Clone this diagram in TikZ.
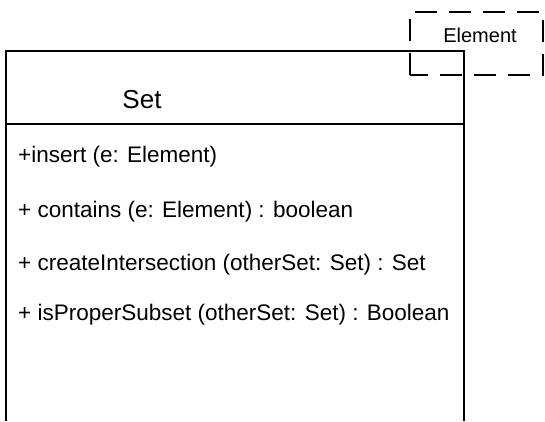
\documentclass[tikz,border=0pt]{standalone}
\usepackage{fontspec}
\setmainfont{Liberation Sans}
\begin{document}
\begin{tikzpicture}[x=1pt,y=1pt,
  classline/.style={draw=black,line width=1.3pt},
  titletext/.style={font=\fontsize{26}{30}\selectfont,inner sep=0pt},
  methodtext/.style={font=\fontsize{22.5}{27}\selectfont,inner sep=0pt,anchor=west},
  tmplbox/.style={draw=black,line width=1.3pt,dash pattern=on 22pt off 12pt}]
  \useasboundingbox (0,0) rectangle (545,421);
  % class box, open at the bottom
  \coordinate (bl) at (6,0);
  \coordinate (tl) at (6,370);
  \coordinate (tr) at (464,370);
  \coordinate (br) at (464,0);
  \coordinate (dl) at (6,297);
  \coordinate (dr) at (464,297);
  \draw[classline] (bl) -- (tl) -- (tr) -- (br);
  \draw[classline] (dl) -- (dr);
  % template parameter box
  \coordinate (e1) at (410,346);
  \coordinate (e2) at (543,409);
  \draw[tmplbox] (e1) rectangle (e2);
  \node[titletext,font=\fontsize{20}{24}\selectfont] (elem) at (480,386) {Element};
  % class name
  \node[titletext] (name) at (142,321) {Set};
  % operations
  \node[methodtext] (op1) at (18,264) {+insert (e: Element)};
  \node[methodtext] (op2) at (18,209) {+ contains (e: Element) : boolean};
  \node[methodtext] (op3) at (18,156) {+ createIntersection (otherSet: Set) : Set};
  \node[methodtext] (op4) at (18,106) {+ isProperSubset (otherSet: Set) : Boolean};
\end{tikzpicture}
\end{document}
